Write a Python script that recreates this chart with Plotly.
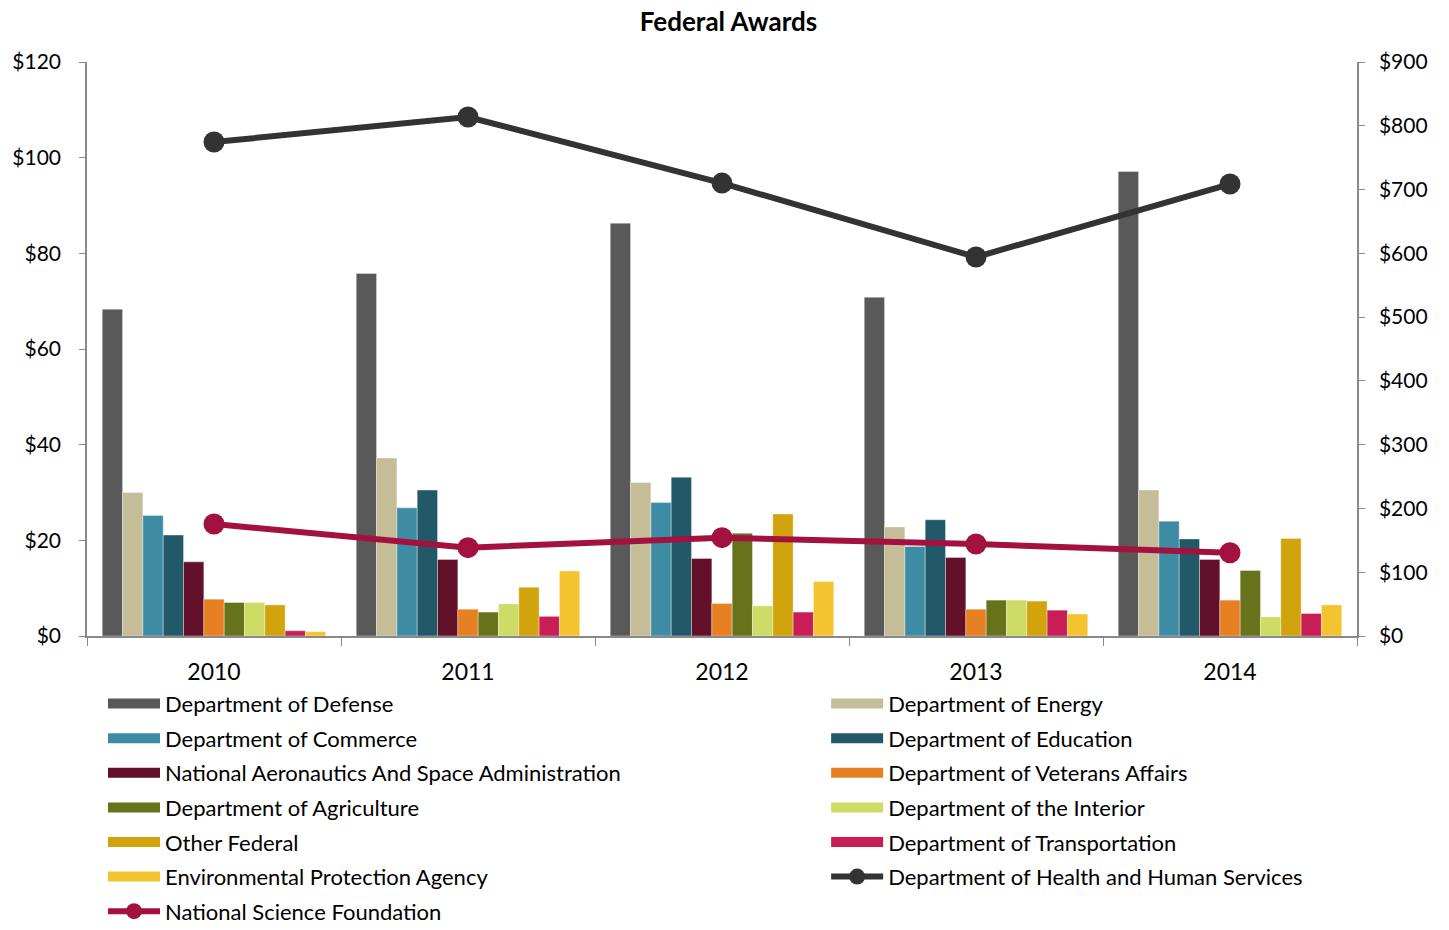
import plotly.graph_objects as go

years = ["2010", "2011", "2012", "2013", "2014"]

bar_names = [
    "Department of Defense",
    "Department of Energy",
    "Department of Commerce",
    "Department of Education",
    "National Aeronautics And Space Administration",
    "Department of Veterans Affairs",
    "Department of Agriculture",
    "Department of the Interior",
    "Other Federal",
    "Department of Transportation",
    "Environmental Protection Agency",
]

defense = [68.3, 75.8, 86.3, 70.8, 97.1]
energy = [30.0, 37.2, 32.1, 22.8, 30.5]
commerce = [25.2, 26.8, 27.9, 18.7, 24.0]
education = [21.1, 30.5, 33.2, 24.3, 20.3]
nasa = [15.5, 16.0, 16.2, 16.4, 16.0]
veterans = [7.7, 5.6, 6.8, 5.6, 7.5]
agriculture = [7.0, 5.0, 21.5, 7.5, 13.7]
interior = [7.0, 6.7, 6.3, 7.5, 4.0]
other_federal = [6.5, 10.2, 25.5, 7.3, 20.4]
transportation = [1.1, 4.1, 5.0, 5.4, 4.7]
epa = [0.9, 13.6, 11.4, 4.6, 6.5]

hhs = [774.5, 813.7, 710.2, 594.2, 708.7]
nsf = [175.6, 138.5, 154.2, 144.2, 130.6]

left_ticks = [0, 20, 40, 60, 80, 100, 120]
right_ticks = [0, 100, 200, 300, 400, 500, 600, 700, 800, 900]
left_labels = ["$" + str(v) for v in left_ticks]
right_labels = ["$" + str(v) for v in right_ticks]

bar_values = [defense, energy, commerce, education, nasa, veterans,
              agriculture, interior, other_federal, transportation, epa]
bar_colors = ["#595959", "#C4BD97", "#3D8CA4", "#215968", "#63102B", "#E68023",
              "#67731B", "#CDDC65", "#D1A30D", "#C91D55", "#F4C430"]

FONT = "Lato"
GREY = "#898989"

fig = go.Figure()
for i, (name, vals, col) in enumerate(zip(bar_names, bar_values, bar_colors)):
    fig.add_trace(go.Bar(x=years, y=vals, name=name, legendgroup=name, showlegend=False,
                         marker=dict(color=col, line=dict(color="rgba(255,255,255,0.6)", width=0.6))))

# legend keys drawn as wide rectangles (linked to the bars through legendgroup)
for i, (name, col) in enumerate(zip(bar_names, bar_colors)):
    fig.add_trace(go.Scatter(x=[None], y=[None], name=name, legendgroup=name,
                             legend="legend" if i % 2 == 0 else "legend2",
                             mode="lines", line=dict(color=col, width=14),
                             hoverinfo="skip"))

fig.add_trace(go.Scatter(x=years, y=hhs, name="Department of Health and Human Services",
                         legendgroup="hhs", legend="legend2",
                         yaxis="y2", mode="lines+markers",
                         line=dict(color="#333333", width=6),
                         marker=dict(color="#333333", size=21)))
fig.add_trace(go.Scatter(x=years, y=nsf, name="National Science Foundation",
                         legendgroup="nsf", legend="legend",
                         yaxis="y2", mode="lines+markers",
                         line=dict(color="#A3123F", width=6),
                         marker=dict(color="#A3123F", size=21)))

legend_common = dict(orientation="v", yanchor="top", itemwidth=52,
                     tracegroupgap=3, font=dict(family=FONT, size=22, color="#000000"),
                     bgcolor="rgba(0,0,0,0)")

# the page adds an 8px body margin, so the figure is sized to fit the window
fig.update_layout(
    width=1441, height=922,
    paper_bgcolor="white", plot_bgcolor="white",
    font=dict(family=FONT, size=20, color="#000000"),
    title=dict(text="<b>Federal Awards</b>", x=0.5, xanchor="center", y=0.985, yanchor="middle",
               font=dict(family=FONT, size=26, color="#000000")),
    margin=dict(l=79, r=92, t=54, b=294, autoexpand=False),
    barmode="group", bargap=0.12, bargroupgap=0,
    showlegend=True,
    legend=dict(x=0.0126, xanchor="left", y=-0.0815, **legend_common),
    legend2=dict(x=0.582, xanchor="left", y=-0.0815, **legend_common),
    xaxis=dict(type="category", showline=True, linecolor=GREY, linewidth=2,
               ticks="outside", tickson="boundaries", ticklen=8, tickcolor=GREY,
               tickfont=dict(size=23), ticklabelstandoff=14, showgrid=False, automargin=False),
    yaxis=dict(range=[0, 120], tickvals=left_ticks, ticktext=left_labels,
               showline=True, linecolor=GREY, linewidth=1.5,
               ticks="outside", ticklen=6, tickcolor=GREY, ticklabelstandoff=14,
               showgrid=False, zeroline=False, tickfont=dict(size=21), automargin=False),
    yaxis2=dict(range=[0, 900], tickvals=right_ticks, ticktext=right_labels,
                overlaying="y", side="right",
                showline=True, linecolor=GREY, linewidth=1.5,
                ticks="outside", ticklen=6, tickcolor=GREY, ticklabelstandoff=10,
                showgrid=False, zeroline=False, tickfont=dict(size=21), automargin=False),
)

fig.write_html("out.html")
